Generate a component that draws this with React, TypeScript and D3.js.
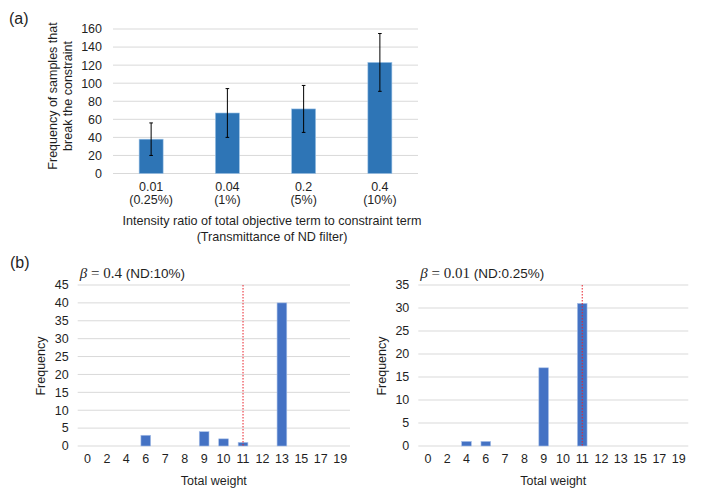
import React from "react"
import * as d3 from "d3"

// panel (a): constraint-breaking frequency vs intensity ratio
const ratioLabels = ["0.01", "0.04", "0.2", "0.4"]
const transmittanceLabels = ["(0.25%)", "(1%)", "(5%)", "(10%)"]
const breakMeans = [38, 67, 71.5, 123]
const breakErrors = [18, 27, 26, 32]
const breakTicks = [0, 20, 40, 60, 80, 100, 120, 140, 160]

// panel (b): total weight histograms
const weightCats = ["0", "2", "4", "6", "7", "8", "9", "10", "11", "12", "13", "15", "17", "19"]
const freqBeta04 = [0, 0, 0, 3, 0, 0, 4, 2, 1, 0, 40, 0, 0, 0]
const freqBeta001 = [0, 0, 1, 1, 0, 0, 17, 0, 31, 0, 0, 0, 0, 0]
const ticksBeta04 = [0, 5, 10, 15, 20, 25, 30, 35, 40, 45]
const ticksBeta001 = [0, 5, 10, 15, 20, 25, 30, 35]
const thresholdWeight = "11"

const W = 708
const H = 499
const FONT = "'Liberation Sans', Arial, Helvetica, sans-serif"
const SERIF = "'Liberation Serif', 'DejaVu Serif', serif"
const GRID = "#d9d9d9"
const TEXT = "#1f1f1f"

function PanelA() {
  const x = d3.scaleBand().domain(ratioLabels).range([113, 418]).paddingInner(0.685).paddingOuter(0.3425)
  const y = d3.scaleLinear().domain([0, 160]).range([173.5, 29])
  const cx = (d: string) => (x(d) || 0) + x.bandwidth() / 2

  return (
    <g fontFamily={FONT} fill={TEXT}>
      <text x={9} y={24} fontSize={16}>(a)</text>
      {breakTicks.map((t) => (
        <g key={t}>
          <line x1={113} x2={418} y1={y(t)} y2={y(t)} stroke={GRID} strokeWidth={1} />
          <text x={102} y={y(t)} dy="0.35em" textAnchor="end" fontSize={12.5}>{t}</text>
        </g>
      ))}
      {ratioLabels.map((d, i) => (
        <g key={d}>
          <rect x={x(d)} y={y(breakMeans[i])} width={x.bandwidth()} height={y(0) - y(breakMeans[i])}
            fill="#2e75b6" stroke="#9dc3e6" strokeWidth={0.6} />
          <line x1={cx(d)} x2={cx(d)} y1={y(breakMeans[i] + breakErrors[i])} y2={y(breakMeans[i] - breakErrors[i])}
            stroke="#000" strokeWidth={1} />
          <line x1={cx(d) - 1.8} x2={cx(d) + 1.8} y1={y(breakMeans[i] + breakErrors[i])} y2={y(breakMeans[i] + breakErrors[i])}
            stroke="#000" strokeWidth={1} />
          <line x1={cx(d) - 1.8} x2={cx(d) + 1.8} y1={y(breakMeans[i] - breakErrors[i])} y2={y(breakMeans[i] - breakErrors[i])}
            stroke="#000" strokeWidth={1} />
          <text x={cx(d)} y={191} textAnchor="middle" fontSize={12.5}>{d}</text>
          <text x={cx(d)} y={204} textAnchor="middle" fontSize={12.5}>{transmittanceLabels[i]}</text>
        </g>
      ))}
      <text x={272} y={225} textAnchor="middle" fontSize={12.6}>
        Intensity ratio of total objective term to constraint term
      </text>
      <text x={272} y={241} textAnchor="middle" fontSize={12.6}>(Transmittance of ND filter)</text>
      <text transform="translate(53,96) rotate(-90)" textAnchor="middle" dy="0.35em" fontSize={12.5}>
        Frequency of samples that
      </text>
      <text transform="translate(68,96) rotate(-90)" textAnchor="middle" dy="0.35em" fontSize={12.5}>
        break the constraint
      </text>
    </g>
  )
}

interface HistProps {
  left: number
  right: number
  values: number[]
  ticks: number[]
  beta: string
  nd: string
}

function Histogram({ left, right, values, ticks, beta, nd }: HistProps) {
  const yMax = ticks[ticks.length - 1]
  const x = d3.scaleBand().domain(weightCats).range([left, right]).paddingInner(0.5).paddingOuter(0.25)
  const y = d3.scaleLinear().domain([0, yMax]).range([446, 285])
  const cx = (d: string) => (x(d) || 0) + x.bandwidth() / 2
  const tx = cx(thresholdWeight)

  return (
    <g fontFamily={FONT} fill={TEXT}>
      <text x={left + 2} y={278} fontSize={13.5}>
        <tspan fontFamily={SERIF} fontStyle="italic" fontSize={15}>β</tspan>
        <tspan fontFamily={SERIF} fontSize={15}> = {beta} </tspan>
        <tspan>(ND:{nd})</tspan>
      </text>
      {ticks.map((t) => (
        <g key={t}>
          <line x1={left} x2={right} y1={y(t)} y2={y(t)} stroke={GRID} strokeWidth={1} />
          <text x={left - 9} y={y(t)} dy="0.35em" textAnchor="end" fontSize={12.5}>{t}</text>
        </g>
      ))}
      {weightCats.map((d, i) => (
        <g key={d}>
          {values[i] > 0 && (
            <rect x={x(d)} y={y(values[i])} width={x.bandwidth()} height={y(0) - y(values[i])}
              fill="#4472c4" stroke="#a9c0e8" strokeWidth={0.6} />
          )}
          <text x={cx(d)} y={463} textAnchor="middle" fontSize={12.5}>{d}</text>
        </g>
      ))}
      <line x1={tx} x2={tx} y1={y(yMax)} y2={y(0)} stroke="#e8202a" strokeWidth={1} strokeDasharray="1.5,1.5" />
      <text x={(left + right) / 2} y={485} textAnchor="middle" fontSize={12.5}>Total weight</text>
      <text transform={`translate(${left - 37},366) rotate(-90)`} textAnchor="middle" dy="0.35em" fontSize={12.5}>
        Frequency
      </text>
    </g>
  )
}

export default function App() {
  return (
    <svg width={W} height={H} style={{ position: "absolute", left: 0, top: 0, background: "#fff" }}>
      <rect width={W} height={H} fill="#fff" />
      <PanelA />
      <text x={10} y={268} fontFamily={FONT} fontSize={16} fill={TEXT}>(b)</text>
      <Histogram left={77.7} right={350} values={freqBeta04} ticks={ticksBeta04} beta="0.4" nd="10%" />
      <Histogram left={418.3} right={688.3} values={freqBeta001} ticks={ticksBeta001} beta="0.01" nd="0.25%" />
    </svg>
  )
}
